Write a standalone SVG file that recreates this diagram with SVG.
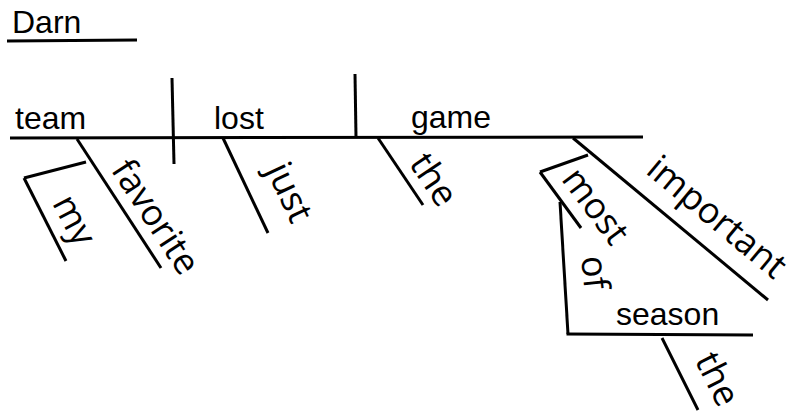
<svg xmlns="http://www.w3.org/2000/svg" width="791" height="412" viewBox="0 0 791 412">
<style>
line, polyline { stroke: #000; stroke-width: 3; fill: none; stroke-linecap: butt; stroke-linejoin: miter; }
.h { font-family: "Liberation Sans", Arial, sans-serif; font-size: 32px; fill: #000; }
.r { font-family: "Open Sans", "DejaVu Sans", sans-serif; font-size: 36px; fill: #000; }
</style>
<rect width="791" height="412" fill="#fff"/>
<g id="connectors">
  <line x1="10" y1="138" x2="643" y2="137"/>
  <line x1="172" y1="78" x2="174" y2="164"/>
  <line x1="355" y1="74" x2="356" y2="137"/>
  <line x1="86" y1="162" x2="24" y2="178"/>
  <line x1="588" y1="155" x2="540" y2="172"/>
</g>
<g id="darn">
  <line x1="7" y1="41" x2="137" y2="40"/>
  <text class="h" x="12" y="33">Darn</text>
</g>
<g id="team"><text class="h" x="15" y="129">team</text></g>
<g id="lost"><text class="h" x="214" y="129">lost</text></g>
<g id="game"><text class="h" x="411" y="128">game</text></g>
<g id="favorite">
  <line x1="77" y1="139" x2="161" y2="268"/>
  <text class="r" transform="translate(77,139) rotate(56.8)" x="44" y="-11">favorite</text>
</g>
<g id="my">
  <line x1="24" y1="178" x2="66" y2="261"/>
  <text class="r" transform="translate(24,178) rotate(62.3)" x="35" y="-13">my</text>
</g>
<g id="just">
  <line x1="223" y1="138" x2="268" y2="233"/>
  <text class="r" transform="translate(223,138) rotate(64.7)" x="47" y="-25">just</text>
</g>
<g id="the-game">
  <line x1="378" y1="138" x2="423" y2="205"/>
  <text class="r" transform="translate(378,138) rotate(56.1)" x="38" y="-11">the</text>
</g>
<g id="important">
  <line x1="573" y1="138" x2="768" y2="300"/>
  <text class="r" transform="translate(573,138) rotate(39.7)" x="77" y="-19">important</text>
</g>
<g id="most">
  <line x1="540" y1="172" x2="581" y2="228"/>
  <text class="r" transform="translate(540,172) rotate(53.1)" x="18" y="-12">most</text>
</g>
<g id="of">
  <line x1="560" y1="202" x2="568" y2="334"/>
  <text class="r" transform="translate(581,257) rotate(84)">of</text>
</g>
<g id="season">
  <line x1="566.5" y1="334" x2="753" y2="335"/>
  <text class="h" x="616" y="325">season</text>
</g>
<g id="the-season">
  <line x1="662" y1="338" x2="698" y2="410"/>
  <text class="r" transform="translate(662,338) rotate(63.4)" x="34" y="-19">the</text>
</g>
</svg>
